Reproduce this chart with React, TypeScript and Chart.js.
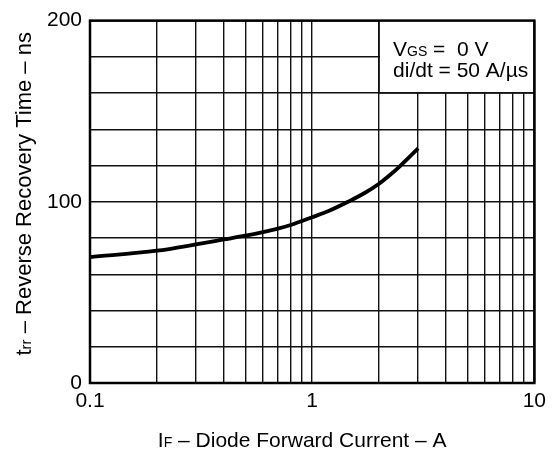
import React, { useEffect, useRef } from "react";
import { Chart, registerables } from "chart.js";

Chart.register(...registerables);

const currentA = [0.1, 0.2, 0.3, 0.4, 0.5, 0.6, 0.7, 0.8, 1.0, 1.2, 1.45, 1.73, 2.0, 2.24, 2.48, 3.0];
const trrNs = [69.5, 73, 76.5, 79.2, 81.3, 83.3, 85.2, 87.2, 91.5, 95.2, 100, 105, 110, 114.8, 119.6, 129.5];

const xTickValues = [0.1, 0.2, 0.3, 0.4, 0.5, 0.6, 0.7, 0.8, 0.9, 1, 2, 3, 4, 5, 6, 7, 8, 9, 10];
const xTickLabels = ["0.1", "1", "10"];
const yTickLabels = ["0", "100", "200"];

const FONT = '"Liberation Sans", Arial, sans-serif';

function drawSegments(ctx: CanvasRenderingContext2D, segs: [string, number][], x: number, y: number, align: "center" | "left") {
  let total = 0;
  const widths = segs.map(([t, s]) => {
    ctx.font = `${s}px ${FONT}`;
    const w = ctx.measureText(t).width;
    total += w;
    return w;
  });
  let cx = align === "center" ? x - total / 2 : x;
  ctx.textAlign = "left";
  ctx.textBaseline = "alphabetic";
  segs.forEach(([t, s], i) => {
    ctx.font = `${s}px ${FONT}`;
    ctx.fillText(t, cx, y);
    cx += widths[i];
  });
}

const framePlugin = {
  id: "frameAndNotes",
  beforeDatasetsDraw(chart: any) {
    const { ctx, chartArea, scales } = chart;
    const xs = scales.x;
    const ys = scales.y;
    const bx0 = xs.getPixelForValue(2);
    const bx1 = xs.getPixelForValue(10);
    const by0 = ys.getPixelForValue(200);
    const by1 = ys.getPixelForValue(160);
    ctx.save();
    ctx.fillStyle = "#fff";
    ctx.fillRect(bx0 + 1, by0, bx1 - bx0 - 1, by1 - by0 - 1);
    ctx.strokeStyle = "#111";
    ctx.lineWidth = 1.5;
    ctx.beginPath();
    ctx.moveTo(bx0, by0);
    ctx.lineTo(bx0, by1);
    ctx.lineTo(bx1, by1);
    ctx.stroke();
    ctx.fillStyle = "#000";
    drawSegments(ctx, [["V", 21], ["GS", 14], [" =  0 V", 21]], bx0 + 14, by0 + 35, "left");
    drawSegments(ctx, [["di/dt = 50 A/µs", 21]], bx0 + 14, by0 + 56, "left");
    ctx.lineWidth = 2.5;
    ctx.strokeStyle = "#000";
    ctx.strokeRect(chartArea.left, chartArea.top, chartArea.right - chartArea.left, chartArea.bottom - chartArea.top);
    ctx.restore();
  },
  afterDraw(chart: any) {
    const { ctx, chartArea } = chart;
    ctx.save();
    ctx.fillStyle = "#000";
    drawSegments(ctx, [["I", 21], ["F", 14], [" – Diode Forward Current – A", 21]], (chartArea.left + chartArea.right) / 2 - 10, 447, "center");
    ctx.translate(31, (chartArea.top + chartArea.bottom) / 2 - 8);
    ctx.rotate(-Math.PI / 2);
    drawSegments(ctx, [["t", 22], ["rr", 15], [" – Reverse Recovery Time – ns", 22]], 0, 0, "center");
    ctx.restore();
  },
};

export default function App() {
  const ref = useRef<HTMLCanvasElement>(null);
  useEffect(() => {
    if (!ref.current) return;
    const chart = new Chart(ref.current, {
      type: "line",
      data: {
        datasets: [
          {
            data: currentA.map((x, i) => ({ x, y: trrNs[i] })),
            borderColor: "#000",
            borderWidth: 3.8,
            pointRadius: 0,
            cubicInterpolationMode: "monotone",
            fill: false,
          },
        ],
      },
      options: {
        animation: false,
        responsive: false,
        devicePixelRatio: 1,
        layout: { padding: { top: 15, right: 15, left: 0, bottom: 0 } },
        plugins: { legend: { display: false }, tooltip: { enabled: false }, title: { display: false } },
        scales: {
          x: {
            type: "logarithmic",
            min: 0.1,
            max: 10,
            afterBuildTicks: (scale: any) => {
              scale.ticks = xTickValues.map((v) => ({ value: v }));
            },
            afterFit: (scale: any) => {
              scale.height = 70;
            },
            ticks: {
              autoSkip: false,
              maxRotation: 0,
              padding: 6,
              color: "#000",
              font: { family: FONT, size: 21 },
              callback: (v: any) => {
                const s = String(Number(v));
                return xTickLabels.includes(s) ? s : "";
              },
            },
            grid: { color: "#111", lineWidth: 1.4, drawTicks: false },
            border: { display: false },
          },
          y: {
            type: "linear",
            min: 0,
            max: 200,
            afterFit: (scale: any) => {
              scale.width = 90;
            },
            ticks: {
              stepSize: 20,
              padding: 8,
              color: "#000",
              font: { family: FONT, size: 21 },
              callback: (v: any) => {
                const s = String(v);
                return yTickLabels.includes(s) ? s : "";
              },
            },
            grid: { color: "#111", lineWidth: 1.4, drawTicks: false },
            border: { display: false },
          },
        },
      },
      plugins: [framePlugin],
    } as any);
    return () => chart.destroy();
  }, []);
  return (
    <div style={{ position: "fixed", left: 0, top: 0, width: 552, height: 453, background: "#fff" }}>
      <canvas ref={ref} width={552} height={453} style={{ width: 552, height: 453 }} />
    </div>
  );
}
